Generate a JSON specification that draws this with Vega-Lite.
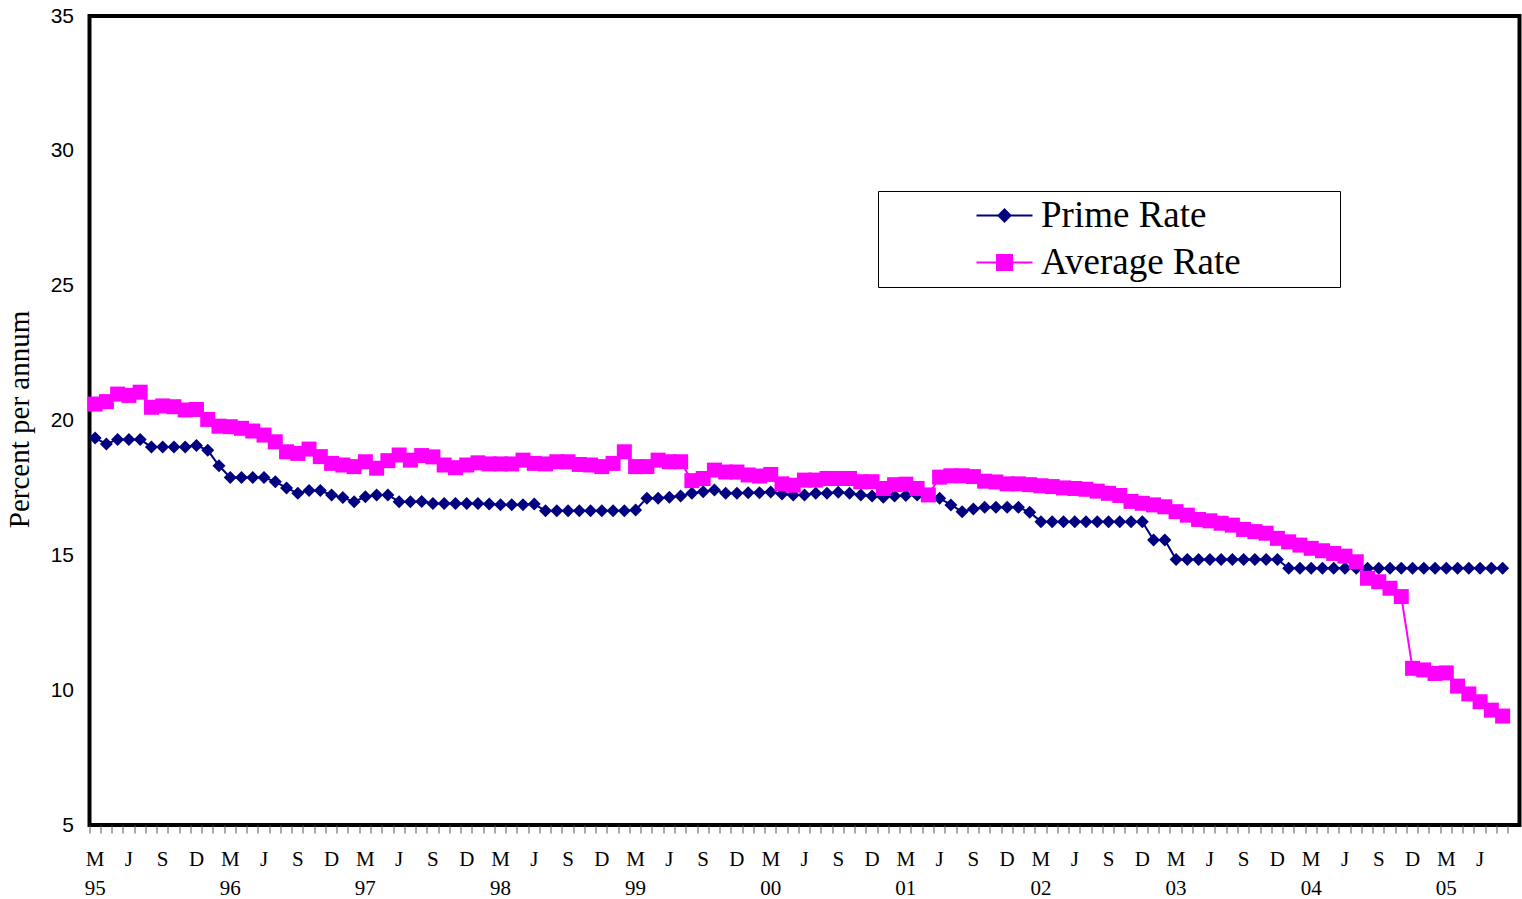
{
  "$schema": "https://vega.github.io/schema/vega-lite/v6.json",
  "width": 1430,
  "height": 809,
  "autosize": {"type": "none"},
  "padding": {"left": 89.5, "top": 16, "right": 2.5, "bottom": 74},
  "background": "white",
  "config": {
    "view": {"stroke": "black", "strokeWidth": 4},
    "axis": {"grid": false}
  },
  "data": {
    "values": [
      {"m": "1995-03", "Prime Rate": 19.35, "Average Rate": 20.61},
      {"m": "1995-04", "Prime Rate": 19.13, "Average Rate": 20.70},
      {"m": "1995-05", "Prime Rate": 19.30, "Average Rate": 20.98},
      {"m": "1995-06", "Prime Rate": 19.30, "Average Rate": 20.93},
      {"m": "1995-07", "Prime Rate": 19.30, "Average Rate": 21.05},
      {"m": "1995-08", "Prime Rate": 19.02, "Average Rate": 20.49},
      {"m": "1995-09", "Prime Rate": 19.02, "Average Rate": 20.54},
      {"m": "1995-10", "Prime Rate": 19.02, "Average Rate": 20.51},
      {"m": "1995-11", "Prime Rate": 19.02, "Average Rate": 20.39},
      {"m": "1995-12", "Prime Rate": 19.07, "Average Rate": 20.41},
      {"m": "1996-01", "Prime Rate": 18.90, "Average Rate": 20.04},
      {"m": "1996-02", "Prime Rate": 18.32, "Average Rate": 19.79},
      {"m": "1996-03", "Prime Rate": 17.89, "Average Rate": 19.77},
      {"m": "1996-04", "Prime Rate": 17.89, "Average Rate": 19.71},
      {"m": "1996-05", "Prime Rate": 17.89, "Average Rate": 19.61},
      {"m": "1996-06", "Prime Rate": 17.89, "Average Rate": 19.46},
      {"m": "1996-07", "Prime Rate": 17.73, "Average Rate": 19.21},
      {"m": "1996-08", "Prime Rate": 17.50, "Average Rate": 18.84},
      {"m": "1996-09", "Prime Rate": 17.30, "Average Rate": 18.78},
      {"m": "1996-10", "Prime Rate": 17.40, "Average Rate": 18.94},
      {"m": "1996-11", "Prime Rate": 17.40, "Average Rate": 18.66},
      {"m": "1996-12", "Prime Rate": 17.24, "Average Rate": 18.41},
      {"m": "1997-01", "Prime Rate": 17.14, "Average Rate": 18.35},
      {"m": "1997-02", "Prime Rate": 16.99, "Average Rate": 18.29},
      {"m": "1997-03", "Prime Rate": 17.17, "Average Rate": 18.47},
      {"m": "1997-04", "Prime Rate": 17.24, "Average Rate": 18.23},
      {"m": "1997-05", "Prime Rate": 17.24, "Average Rate": 18.51},
      {"m": "1997-06", "Prime Rate": 16.99, "Average Rate": 18.72},
      {"m": "1997-07", "Prime Rate": 16.99, "Average Rate": 18.53},
      {"m": "1997-08", "Prime Rate": 17.00, "Average Rate": 18.70},
      {"m": "1997-09", "Prime Rate": 16.92, "Average Rate": 18.65},
      {"m": "1997-10", "Prime Rate": 16.92, "Average Rate": 18.35},
      {"m": "1997-11", "Prime Rate": 16.92, "Average Rate": 18.25},
      {"m": "1997-12", "Prime Rate": 16.92, "Average Rate": 18.35},
      {"m": "1998-01", "Prime Rate": 16.92, "Average Rate": 18.43},
      {"m": "1998-02", "Prime Rate": 16.90, "Average Rate": 18.39},
      {"m": "1998-03", "Prime Rate": 16.88, "Average Rate": 18.39},
      {"m": "1998-04", "Prime Rate": 16.88, "Average Rate": 18.39},
      {"m": "1998-05", "Prime Rate": 16.88, "Average Rate": 18.53},
      {"m": "1998-06", "Prime Rate": 16.90, "Average Rate": 18.41},
      {"m": "1998-07", "Prime Rate": 16.65, "Average Rate": 18.39},
      {"m": "1998-08", "Prime Rate": 16.65, "Average Rate": 18.47},
      {"m": "1998-09", "Prime Rate": 16.65, "Average Rate": 18.47},
      {"m": "1998-10", "Prime Rate": 16.65, "Average Rate": 18.37},
      {"m": "1998-11", "Prime Rate": 16.65, "Average Rate": 18.35},
      {"m": "1998-12", "Prime Rate": 16.65, "Average Rate": 18.29},
      {"m": "1999-01", "Prime Rate": 16.65, "Average Rate": 18.41},
      {"m": "1999-02", "Prime Rate": 16.65, "Average Rate": 18.84},
      {"m": "1999-03", "Prime Rate": 16.68, "Average Rate": 18.29},
      {"m": "1999-04", "Prime Rate": 17.12, "Average Rate": 18.29},
      {"m": "1999-05", "Prime Rate": 17.12, "Average Rate": 18.53},
      {"m": "1999-06", "Prime Rate": 17.15, "Average Rate": 18.47},
      {"m": "1999-07", "Prime Rate": 17.20, "Average Rate": 18.47},
      {"m": "1999-08", "Prime Rate": 17.30, "Average Rate": 17.77},
      {"m": "1999-09", "Prime Rate": 17.36, "Average Rate": 17.85},
      {"m": "1999-10", "Prime Rate": 17.42, "Average Rate": 18.16},
      {"m": "1999-11", "Prime Rate": 17.30, "Average Rate": 18.09},
      {"m": "1999-12", "Prime Rate": 17.30, "Average Rate": 18.09},
      {"m": "2000-01", "Prime Rate": 17.32, "Average Rate": 17.98},
      {"m": "2000-02", "Prime Rate": 17.32, "Average Rate": 17.94},
      {"m": "2000-03", "Prime Rate": 17.35, "Average Rate": 18.00},
      {"m": "2000-04", "Prime Rate": 17.27, "Average Rate": 17.65},
      {"m": "2000-05", "Prime Rate": 17.24, "Average Rate": 17.60},
      {"m": "2000-06", "Prime Rate": 17.24, "Average Rate": 17.79},
      {"m": "2000-07", "Prime Rate": 17.30, "Average Rate": 17.79},
      {"m": "2000-08", "Prime Rate": 17.30, "Average Rate": 17.85},
      {"m": "2000-09", "Prime Rate": 17.34, "Average Rate": 17.85},
      {"m": "2000-10", "Prime Rate": 17.30, "Average Rate": 17.85},
      {"m": "2000-11", "Prime Rate": 17.24, "Average Rate": 17.73},
      {"m": "2000-12", "Prime Rate": 17.20, "Average Rate": 17.73},
      {"m": "2001-01", "Prime Rate": 17.15, "Average Rate": 17.48},
      {"m": "2001-02", "Prime Rate": 17.20, "Average Rate": 17.62},
      {"m": "2001-03", "Prime Rate": 17.22, "Average Rate": 17.64},
      {"m": "2001-04", "Prime Rate": 17.24, "Average Rate": 17.48},
      {"m": "2001-05", "Prime Rate": 17.24, "Average Rate": 17.24},
      {"m": "2001-06", "Prime Rate": 17.12, "Average Rate": 17.90},
      {"m": "2001-07", "Prime Rate": 16.87, "Average Rate": 17.95},
      {"m": "2001-08", "Prime Rate": 16.62, "Average Rate": 17.95},
      {"m": "2001-09", "Prime Rate": 16.72, "Average Rate": 17.92},
      {"m": "2001-10", "Prime Rate": 16.78, "Average Rate": 17.75},
      {"m": "2001-11", "Prime Rate": 16.78, "Average Rate": 17.72},
      {"m": "2001-12", "Prime Rate": 16.78, "Average Rate": 17.65},
      {"m": "2002-01", "Prime Rate": 16.78, "Average Rate": 17.65},
      {"m": "2002-02", "Prime Rate": 16.60, "Average Rate": 17.62},
      {"m": "2002-03", "Prime Rate": 16.25, "Average Rate": 17.58},
      {"m": "2002-04", "Prime Rate": 16.25, "Average Rate": 17.55},
      {"m": "2002-05", "Prime Rate": 16.25, "Average Rate": 17.50},
      {"m": "2002-06", "Prime Rate": 16.25, "Average Rate": 17.48},
      {"m": "2002-07", "Prime Rate": 16.25, "Average Rate": 17.45},
      {"m": "2002-08", "Prime Rate": 16.25, "Average Rate": 17.38},
      {"m": "2002-09", "Prime Rate": 16.25, "Average Rate": 17.30},
      {"m": "2002-10", "Prime Rate": 16.25, "Average Rate": 17.22},
      {"m": "2002-11", "Prime Rate": 16.25, "Average Rate": 17.00},
      {"m": "2002-12", "Prime Rate": 16.25, "Average Rate": 16.93},
      {"m": "2003-01", "Prime Rate": 15.57, "Average Rate": 16.87},
      {"m": "2003-02", "Prime Rate": 15.57, "Average Rate": 16.80},
      {"m": "2003-03", "Prime Rate": 14.85, "Average Rate": 16.62},
      {"m": "2003-04", "Prime Rate": 14.85, "Average Rate": 16.49},
      {"m": "2003-05", "Prime Rate": 14.85, "Average Rate": 16.33},
      {"m": "2003-06", "Prime Rate": 14.85, "Average Rate": 16.28},
      {"m": "2003-07", "Prime Rate": 14.85, "Average Rate": 16.19},
      {"m": "2003-08", "Prime Rate": 14.85, "Average Rate": 16.12},
      {"m": "2003-09", "Prime Rate": 14.85, "Average Rate": 15.96},
      {"m": "2003-10", "Prime Rate": 14.85, "Average Rate": 15.88},
      {"m": "2003-11", "Prime Rate": 14.85, "Average Rate": 15.82},
      {"m": "2003-12", "Prime Rate": 14.85, "Average Rate": 15.63},
      {"m": "2004-01", "Prime Rate": 14.52, "Average Rate": 15.50},
      {"m": "2004-02", "Prime Rate": 14.52, "Average Rate": 15.38},
      {"m": "2004-03", "Prime Rate": 14.52, "Average Rate": 15.26},
      {"m": "2004-04", "Prime Rate": 14.52, "Average Rate": 15.17},
      {"m": "2004-05", "Prime Rate": 14.52, "Average Rate": 15.07},
      {"m": "2004-06", "Prime Rate": 14.52, "Average Rate": 14.97},
      {"m": "2004-07", "Prime Rate": 14.52, "Average Rate": 14.76},
      {"m": "2004-08", "Prime Rate": 14.52, "Average Rate": 14.15},
      {"m": "2004-09", "Prime Rate": 14.52, "Average Rate": 14.02},
      {"m": "2004-10", "Prime Rate": 14.52, "Average Rate": 13.78},
      {"m": "2004-11", "Prime Rate": 14.52, "Average Rate": 13.47},
      {"m": "2004-12", "Prime Rate": 14.52, "Average Rate": 10.81},
      {"m": "2005-01", "Prime Rate": 14.52, "Average Rate": 10.75},
      {"m": "2005-02", "Prime Rate": 14.52, "Average Rate": 10.62},
      {"m": "2005-03", "Prime Rate": 14.52, "Average Rate": 10.64},
      {"m": "2005-04", "Prime Rate": 14.52, "Average Rate": 10.15},
      {"m": "2005-05", "Prime Rate": 14.52, "Average Rate": 9.86},
      {"m": "2005-06", "Prime Rate": 14.52, "Average Rate": 9.57},
      {"m": "2005-07", "Prime Rate": 14.52, "Average Rate": 9.26},
      {"m": "2005-08", "Prime Rate": 14.52, "Average Rate": 9.04}
    ]
  },
  "transform": [{"fold": ["Prime Rate", "Average Rate"], "as": ["series", "value"]}],
  "encoding": {
    "x": {
      "field": "m",
      "type": "ordinal",
      "scale": {
        "type": "band",
        "paddingInner": 0,
        "paddingOuter": 0,
        "domain": [
          "1995-03","1995-04","1995-05","1995-06","1995-07","1995-08","1995-09","1995-10","1995-11","1995-12",
          "1996-01","1996-02","1996-03","1996-04","1996-05","1996-06","1996-07","1996-08","1996-09","1996-10","1996-11","1996-12",
          "1997-01","1997-02","1997-03","1997-04","1997-05","1997-06","1997-07","1997-08","1997-09","1997-10","1997-11","1997-12",
          "1998-01","1998-02","1998-03","1998-04","1998-05","1998-06","1998-07","1998-08","1998-09","1998-10","1998-11","1998-12",
          "1999-01","1999-02","1999-03","1999-04","1999-05","1999-06","1999-07","1999-08","1999-09","1999-10","1999-11","1999-12",
          "2000-01","2000-02","2000-03","2000-04","2000-05","2000-06","2000-07","2000-08","2000-09","2000-10","2000-11","2000-12",
          "2001-01","2001-02","2001-03","2001-04","2001-05","2001-06","2001-07","2001-08","2001-09","2001-10","2001-11","2001-12",
          "2002-01","2002-02","2002-03","2002-04","2002-05","2002-06","2002-07","2002-08","2002-09","2002-10","2002-11","2002-12",
          "2003-01","2003-02","2003-03","2003-04","2003-05","2003-06","2003-07","2003-08","2003-09","2003-10","2003-11","2003-12",
          "2004-01","2004-02","2004-03","2004-04","2004-05","2004-06","2004-07","2004-08","2004-09","2004-10","2004-11","2004-12",
          "2005-01","2005-02","2005-03","2005-04","2005-05","2005-06","2005-07","2005-08","2005-09"
        ]
      },
      "axis": {
        "orient": "bottom",
        "title": null,
        "domain": false,
        "ticks": true,
        "bandPosition": 0,
        "tickSize": 8,
        "tickWidth": 1,
        "tickColor": "#555555",
        "labelAngle": 0,
        "labelOverlap": false,
        "labelBaseline": "top",
        "labelPadding": 15,
        "labelFont": "Liberation Serif",
        "labelFontSize": 21,
        "labelLineHeight": 29,
        "labelColor": "black",
        "labelExpr": "datum.value == '2005-09' ? '' : slice(datum.value,5)=='03' ? ['M', slice(datum.value,2,4)] : slice(datum.value,5)=='06' ? 'J' : slice(datum.value,5)=='09' ? 'S' : slice(datum.value,5)=='12' ? 'D' : ''"
      }
    },
    "y": {
      "field": "value",
      "type": "quantitative",
      "scale": {"domain": [5, 35], "nice": false, "zero": false},
      "axis": {
        "values": [5, 10, 15, 20, 25, 30, 35],
        "ticks": false,
        "domain": false,
        "labelPadding": 16,
        "labelFont": "Liberation Sans",
        "labelFontSize": 21,
        "labelColor": "black",
        "title": "Percent per annum",
        "titleFont": "Liberation Serif",
        "titleFontSize": 29,
        "titleFontWeight": "normal",
        "titleColor": "black",
        "titleX": -61.5,
        "titleY": 403,
        "titleBaseline": "alphabetic"
      }
    },
    "color": {
      "field": "series",
      "type": "nominal",
      "scale": {"domain": ["Prime Rate", "Average Rate"], "range": ["#000080", "#FF00FF"]},
      "legend": {
        "orient": "none",
        "legendX": 788.5,
        "legendY": 175,
        "title": null,
        "strokeColor": "black",
        "fillColor": "white",
        "padding": 6,
        "rowPadding": 9,
        "labelFont": "Liberation Serif",
        "labelFontSize": 37,
        "labelColor": "black",
        "labelLimit": 1000,
        "labelExpr": "datum.label + '\u00a0\u00a0\u00a0\u00a0\u00a0\u00a0\u00a0\u00a0\u00a0\u00a0\u200b'",
        "symbolSize": 400,
        "symbolStrokeWidth": 2,
        "symbolOffset": 102,
        "labelOffset": 18,
        "encode": {
          "symbols": {
            "update": {
              "shape": {"signal": "datum.value === 'Prime Rate' ? 'M-2.8,0L2.8,0M0,-0.6L0.6,0L0,0.6L-0.6,0Z' : 'M-2.8,0L2.8,0M-0.75,-0.75L0.75,-0.75L0.75,0.75L-0.75,0.75Z'"},
              "fill": {"scale": "color", "field": "value"},
              "stroke": {"scale": "color", "field": "value"},
              "strokeWidth": {"value": 2},
              "fillOpacity": {"value": 1},
              "strokeOpacity": {"value": 1},
              "opacity": {"value": 1}
            }
          }
        }
      }
    }
  },
  "layer": [
    {
      "transform": [{"filter": "datum.series === 'Prime Rate'"}],
      "mark": {"type": "line", "strokeWidth": 2, "point": {"shape": "diamond", "size": 169, "filled": true, "opacity": 1}}
    },
    {
      "transform": [{"filter": "datum.series === 'Average Rate'"}],
      "mark": {"type": "line", "strokeWidth": 2, "point": {"shape": "square", "size": 225, "filled": true, "opacity": 1}}
    }
  ]
}
